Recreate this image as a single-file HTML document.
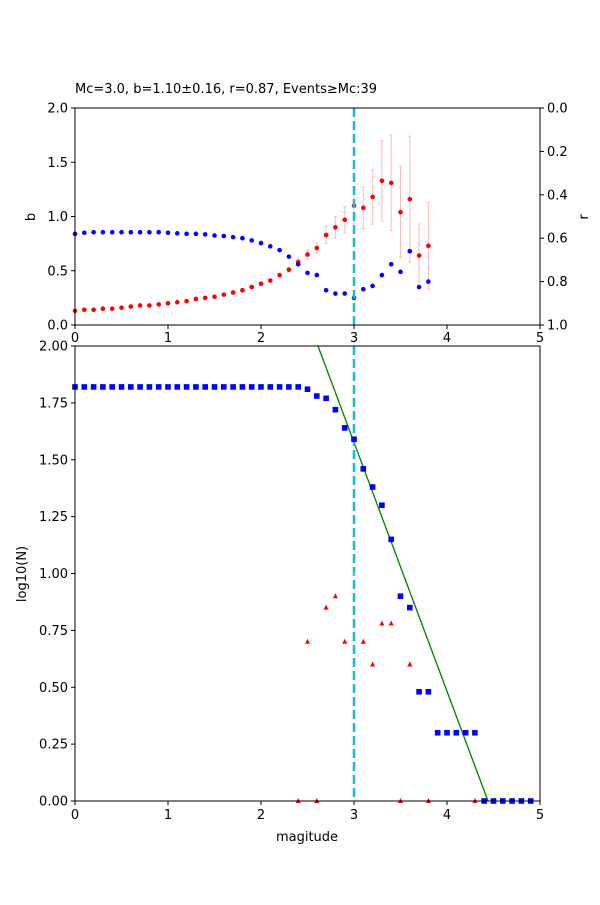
<!DOCTYPE html>
<html><head><meta charset="utf-8"><style>
html,body{margin:0;padding:0;background:#fff}
svg text{font-family:"DejaVu Sans","Liberation Sans",sans-serif;font-size:13px;fill:#000}
</style></head><body>
<svg id="s" width="600" height="900" xmlns="http://www.w3.org/2000/svg"></svg>
<script>
var o=[];
function X(v){return 75+v*93;}
function YT(b){return 325-b*108.5;}
function YB(v){return 801-v*227.5;}
o.push('<rect width="600" height="900" fill="#fff"/>');
var red=[0.13,0.14,0.14,0.15,0.15,0.16,0.17,0.18,0.18,0.19,0.2,0.21,0.22,0.24,0.25,0.26,0.28,0.30,0.32,0.35,0.38,0.41,0.46,0.51,0.58,0.65,0.71,0.83,0.90,0.97,1.10,1.08,1.18,1.33,1.31,1.04,1.16,0.64,0.73];
var err=[0,0,0,0,0,0,0,0,0,0,0,0,0,0,0,0,0,0,0,0,0.01,0.01,0.01,0.02,0.03,0.04,0.05,0.08,0.1,0.12,0.17,0.19,0.25,0.37,0.44,0.42,0.58,0.29,0.40];
var blue=[0.84,0.85,0.855,0.855,0.855,0.855,0.855,0.855,0.855,0.855,0.85,0.845,0.84,0.84,0.835,0.825,0.82,0.81,0.80,0.78,0.755,0.725,0.69,0.63,0.56,0.48,0.46,0.32,0.29,0.29,0.25,0.33,0.36,0.46,0.56,0.49,0.68,0.35,0.40];
// error bars
for(var i=0;i<red.length;i++){if(err[i]>0){var x=X(i*0.1);o.push('<line x1="'+x+'" x2="'+x+'" y1="'+YT(red[i]-err[i])+'" y2="'+YT(red[i]+err[i])+'" stroke="#ffbcbc" stroke-width="1"/>');
o.push('<line x1="'+(x-1.5)+'" x2="'+(x+1.5)+'" y1="'+YT(red[i]-err[i])+'" y2="'+YT(red[i]-err[i])+'" stroke="#ffbcbc"/><line x1="'+(x-1.5)+'" x2="'+(x+1.5)+'" y1="'+YT(red[i]+err[i])+'" y2="'+YT(red[i]+err[i])+'" stroke="#ffbcbc"/>');}}
for(var i=0;i<red.length;i++){o.push('<circle cx="'+X(i*0.1)+'" cy="'+YT(red[i])+'" r="2.3" fill="#f00"/>');o.push('<circle cx="'+X(i*0.1)+'" cy="'+YT(blue[i])+'" r="2.3" fill="#00f"/>');}
// top axes frame
o.push('<line x1="'+X(3)+'" x2="'+X(3)+'" y1="108" y2="325" stroke="#17becf" stroke-width="2.5" stroke-dasharray="9,4"/>');
o.push('<rect x="75" y="108" width="465" height="217" fill="none" stroke="#000" stroke-width="1"/>');
for(var k=0;k<=5;k++){var x=X(k);o.push('<line x1="'+x+'" x2="'+x+'" y1="325" y2="329" stroke="#000"/>');o.push('<text x="'+x+'" y="342" text-anchor="middle">'+k+'</text>');}
var bl=["0.0","0.5","1.0","1.5","2.0"];
for(var k=0;k<5;k++){var y=YT(k*0.5);o.push('<line x1="71" x2="75" y1="'+y+'" y2="'+y+'" stroke="#000"/>');o.push('<text x="68" y="'+(y+4.5)+'" text-anchor="end">'+bl[k]+'</text>');}
var rl=["0.0","0.2","0.4","0.6","0.8","1.0"];
for(var k=0;k<6;k++){var y=108+k*43.4;o.push('<line x1="540" x2="544" y1="'+y+'" y2="'+y+'" stroke="#000"/>');o.push('<text x="547" y="'+(y+4.5)+'">'+rl[k]+'</text>');}
o.push('<text x="0" y="0" transform="translate(35,217) rotate(-90)" text-anchor="middle">b</text>');
o.push('<text x="0" y="0" transform="translate(588,217) rotate(-90)" text-anchor="middle">r</text>');
o.push('<text x="75" y="93">Mc=3.0, b=1.10±0.16, r=0.87, Events≥Mc:39</text>');
// bottom
o.push('<rect x="75" y="346" width="465" height="455" fill="#fff"/>');
var bs=[];for(var i=0;i<=24;i++)bs.push(1.82);
bs=bs.concat([1.81,1.78,1.77,1.72,1.64,1.59,1.46,1.38,1.30,1.15,0.90,0.85,0.48,0.48,0.30,0.30,0.30,0.30,0.30,0,0,0,0,0,0]);
var tri=[[2.4,0],[2.5,0.70],[2.6,0],[2.7,0.85],[2.8,0.90],[2.9,0.70],[3.1,0.70],[3.2,0.60],[3.3,0.78],[3.4,0.78],[3.5,0],[3.6,0.60],[3.8,0],[4.3,0]];
o.push('<line x1="318" y1="346" x2="488" y2="801" stroke="#008000" stroke-width="1.3"/>');
o.push('<line x1="'+X(3)+'" x2="'+X(3)+'" y1="346" y2="801" stroke="#17becf" stroke-width="2.5" stroke-dasharray="9,4"/>');
for(var i=0;i<bs.length;i++){var x=X(i*0.1),y=YB(bs[i]);o.push('<rect x="'+(x-2.8)+'" y="'+(y-2.8)+'" width="5.6" height="5.6" fill="#00f"/>');}
for(var t of tri){var x=X(t[0]),y=YB(t[1]);o.push('<polygon points="'+(x-2.5)+','+(y+2)+' '+(x+2.5)+','+(y+2)+' '+x+','+(y-3)+'" fill="#f00"/>');}
o.push('<text x="'+X(3)+'" y="'+(YB(1.0)+3)+'" text-anchor="middle" style="font-size:8px;fill:#f99">+</text>');
o.push('<rect x="75" y="346" width="465" height="455" fill="none" stroke="#000" stroke-width="1"/>');
for(var k=0;k<=5;k++){var x=X(k);o.push('<line x1="'+x+'" x2="'+x+'" y1="801" y2="805" stroke="#000"/>');o.push('<text x="'+x+'" y="819" text-anchor="middle">'+k+'</text>');}
var ll=["0.00","0.25","0.50","0.75","1.00","1.25","1.50","1.75","2.00"];
for(var k=0;k<9;k++){var y=YB(k*0.25);o.push('<line x1="71" x2="75" y1="'+y+'" y2="'+y+'" stroke="#000"/>');o.push('<text x="68" y="'+(y+4.5)+'" text-anchor="end">'+ll[k]+'</text>');}
o.push('<text x="307" y="841" text-anchor="middle">magitude</text>');
o.push('<text x="0" y="0" transform="translate(26,574) rotate(-90)" text-anchor="middle">log10(N)</text>');
document.getElementById('s').innerHTML=o.join('');
</script>
</body></html>
